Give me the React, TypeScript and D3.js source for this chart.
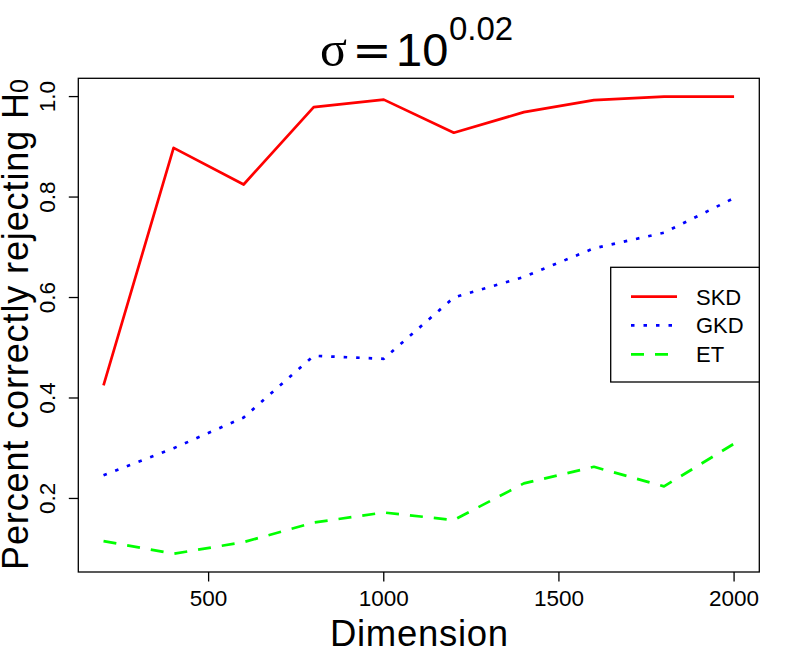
import React from "react";
import * as d3 from "d3";

const dims = [200, 400, 600, 800, 1000, 1200, 1400, 1600, 1800, 2000];
const skd = [0.425, 0.898, 0.825, 0.979, 0.994, 0.928, 0.969, 0.993, 1.0, 1.0];
const gkd = [0.246, 0.3, 0.361, 0.484, 0.478, 0.6, 0.641, 0.698, 0.729, 0.798];
const et = [0.115, 0.09, 0.113, 0.152, 0.172, 0.157, 0.23, 0.263, 0.224, 0.309];
const xTicks = [500, 1000, 1500, 2000];
const yTicks = [0.2, 0.4, 0.6, 0.8, 1.0];
const seriesNames = ["SKD", "GKD", "ET"];

const W = 800;
const H = 670;
const L = 78.3, R = 759.3, T = 78.3, B = 572;
const FONT = "'Liberation Sans', Arial, sans-serif";

function padDomain(lo: number, hi: number): [number, number] {
  const p = (hi - lo) * 0.04;
  return [lo - p, hi + p];
}

export default function App() {
  const x = d3.scaleLinear().domain(padDomain(d3.min(dims)!, d3.max(dims)!)).range([L, R]);
  const all = [...skd, ...gkd, ...et];
  const y = d3.scaleLinear().domain(padDomain(d3.min(all)!, d3.max(all)!)).range([B, T]);

  const line = d3
    .line<number>()
    .x((_, i) => x(dims[i]))
    .y((d) => y(d));

  const series = [
    { name: seriesNames[0], values: skd, color: "#FF0000", dash: undefined as string | undefined },
    { name: seriesNames[1], values: gkd, color: "#0000FF", dash: "3.5 9" },
    { name: seriesNames[2], values: et, color: "#00FF00", dash: "13 11" },
  ];

  const legX = 610.7, legY = 267.3, legW = R - 610.7, legH = 382 - 267.3;
  const legRows = [296.7, 325.3, 354.3];

  return (
    <svg
      width={W}
      height={H}
      style={{ position: "absolute", left: 0, top: 0, background: "#fff" }}
      fontFamily={FONT}
    >
      <rect x={0} y={0} width={W} height={H} fill="#fff" />
      {series.map((s) => (
        <path
          key={s.name}
          d={line(s.values) || ""}
          fill="none"
          stroke={s.color}
          strokeWidth={2.7}
          strokeDasharray={s.dash}
          strokeLinejoin="round"
        />
      ))}
      <rect x={L} y={T} width={R - L} height={B - T} fill="none" stroke="#000" strokeWidth={1.3} />
      {xTicks.map((t) => (
        <g key={t}>
          <line x1={x(t)} x2={x(t)} y1={B} y2={B + 9.5} stroke="#000" strokeWidth={1.3} />
          <text x={x(t)} y={606} textAnchor="middle" fontSize={22.5}>
            {t}
          </text>
        </g>
      ))}
      {yTicks.map((t) => (
        <g key={t}>
          <line x1={L - 9.5} x2={L} y1={y(t)} y2={y(t)} stroke="#000" strokeWidth={1.3} />
          <text
            transform={`translate(55,${y(t)}) rotate(-90)`}
            textAnchor="middle"
            fontSize={22.5}
          >
            {t.toFixed(1)}
          </text>
        </g>
      ))}
      <text x={330} y={646} fontSize={36.5} textLength={178} lengthAdjust="spacing">
        Dimension
      </text>
      <text
        transform="translate(27.5,570) rotate(-90)"
        fontSize={36}
        textLength={477}
        lengthAdjust="spacing"
      >
        Percent correctly rejecting H
      </text>
      <text transform="translate(28,93) rotate(-90)" fontSize={25}>
        0
      </text>
      {/* title */}
      <text x={320} y={66} fontSize={50} fontFamily="'Liberation Serif', 'Times New Roman', serif">
        σ
      </text>
      <text x={372} y={66} textAnchor="middle" fontSize={47} fontFamily="'DejaVu Sans', sans-serif">
        =
      </text>
      <text x={396} y={66} fontSize={47}>
        10
      </text>
      <text x={449} y={40} fontSize={33}>
        0.02
      </text>
      {/* legend */}
      <rect x={legX} y={legY} width={legW} height={legH} fill="#fff" stroke="#000" strokeWidth={1.3} />
      {series.map((s, i) => (
        <g key={s.name}>
          <line
            x1={631}
            x2={677}
            y1={legRows[i]}
            y2={legRows[i]}
            stroke={s.color}
            strokeWidth={2.7}
            strokeDasharray={s.dash}
          />
          <text x={696} y={legRows[i] + 8} fontSize={22}>
            {s.name}
          </text>
        </g>
      ))}
    </svg>
  );
}
